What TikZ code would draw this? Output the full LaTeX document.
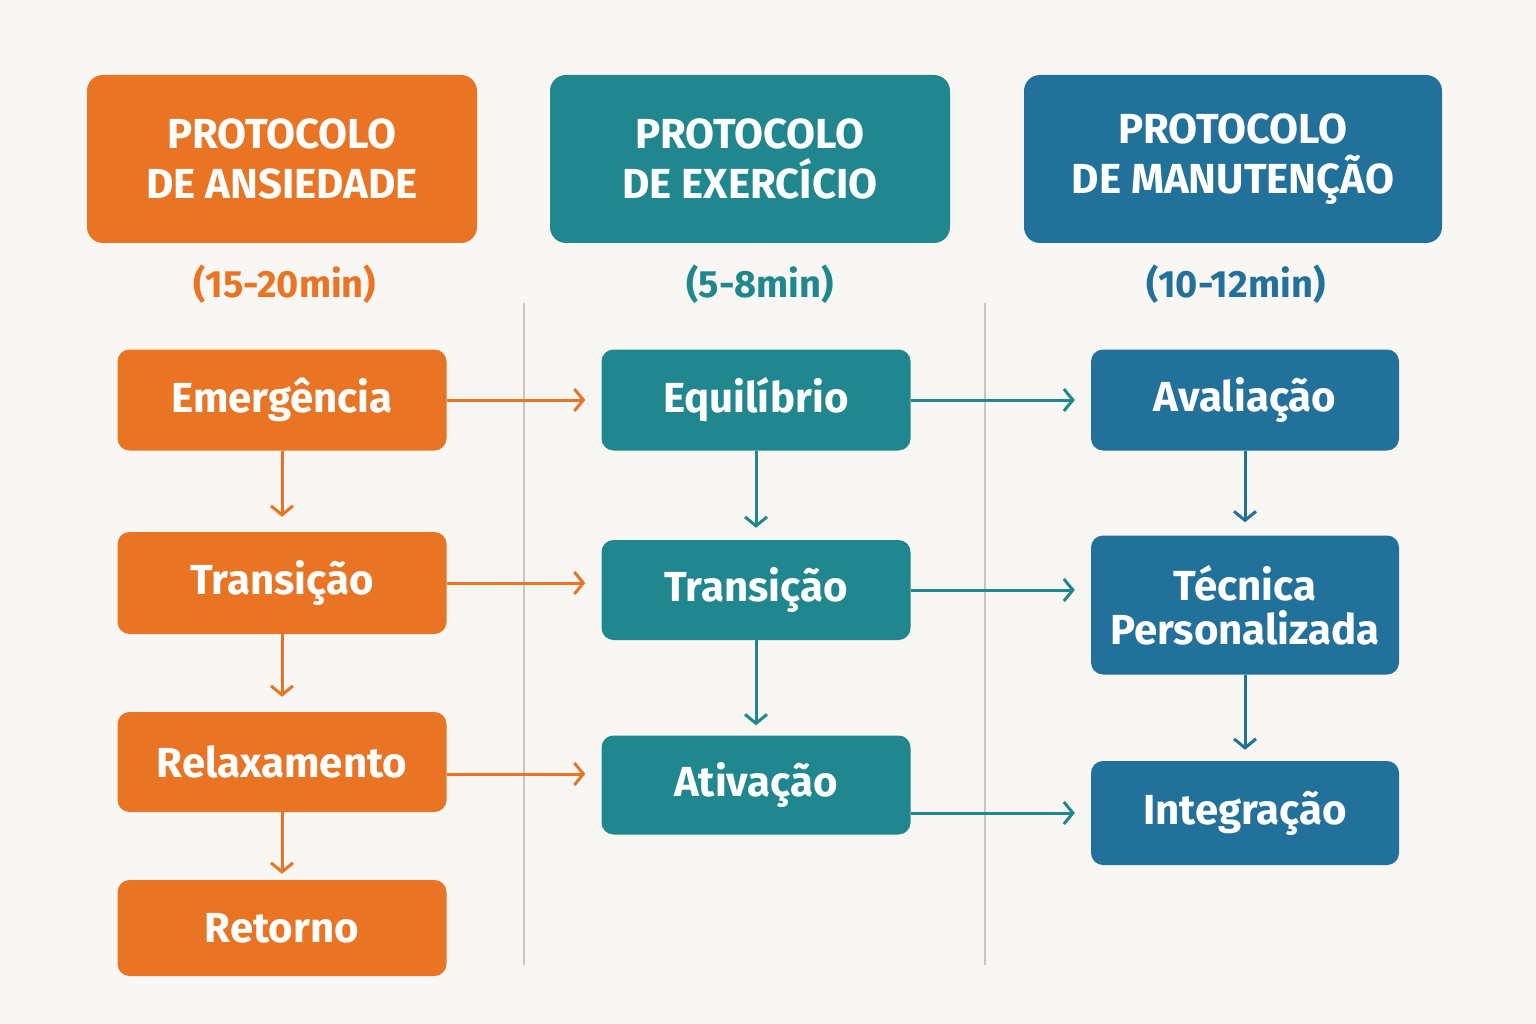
\documentclass[tikz,border=0pt]{standalone}
\usepackage{fontspec}
\setmainfont{Fira Sans}
\usetikzlibrary{arrows.meta}
\definecolor{bg}{HTML}{F9F7F3}
\definecolor{cor}{HTML}{E87424}
\definecolor{cte}{HTML}{20878F}
\definecolor{cbl}{HTML}{21719A}
\definecolor{cdv}{HTML}{C8C6C2}
\begin{document}
\begin{tikzpicture}[x=1pt,y=-1pt,
  hdr/.style={rounded corners=16pt,text=white,font=\fontsize{42}{50}\selectfont\bfseries,align=center,inner sep=0pt},
  box/.style={rounded corners=12pt,text=white,font=\fontsize{42}{44}\selectfont\bfseries,align=center,inner sep=0pt},
  dur/.style={font=\fontsize{38}{40}\selectfont\bfseries},
  arr/.style={line width=3pt,-{Straight Barb[length=9pt,width=22pt,line width=3pt]}}]
\useasboundingbox[fill=bg] (0,0) rectangle (1536,1024);
\draw[cdv,line width=2.5pt] (524,303) -- (524,965) (985,303) -- (985,965);
% headers
\node[hdr,fill=cor,minimum width=390pt,minimum height=168pt] (h1) at (282,159) {PROTOCOLO\\DE ANSIEDADE};
\node[hdr,fill=cte,minimum width=400pt,minimum height=168pt] (h2) at (750,159) {PROTOCOLO\\DE EXERCÍCIO};
\node[hdr,fill=cbl,minimum width=418pt,minimum height=168pt] (h3) at (1233,159) {PROTOCOLO\\DE MANUTENÇÃO};
\node[dur,text=cor] (d1) at (285,284) {(15-20min)};
\node[dur,text=cte] (d2) at (760,284) {(5-8min)};
\node[dur,text=cbl] (d3) at (1236,284) {(10-12min)};
% orange
\tikzset{ob/.style={box,fill=cor,minimum width=329pt}}
\node[ob,minimum height=101pt] (o1) at (282,400) {Emergência};
\node[ob,minimum height=102pt] (o2) at (282,583) {Transição};
\node[ob,minimum height=100pt] (o3) at (282,762) {Relaxamento};
\node[ob,minimum height=96pt] (o4) at (282,928) {Retorno};
% teal
\tikzset{tb/.style={box,fill=cte,minimum width=309pt}}
\node[tb,minimum height=101pt] (t1) at (756,400) {Equilíbrio};
\node[tb,minimum height=100pt] (t2) at (756,590) {Transição};
\node[tb,minimum height=99pt] (t3) at (756,785) {Ativação};
% blue
\tikzset{bb/.style={box,fill=cbl,minimum width=308pt}}
\node[bb,minimum height=101pt] (b1) at (1245,400) {Avaliação};
\node[bb,minimum height=139pt] (b2) at (1245,605) {Técnica\\Personalizada};
\node[bb,minimum height=104pt] (b3) at (1245,813) {Integração};
% arrows
\begin{scope}[cor]
\draw[arr,cor,shorten >=16pt] (o1.east) -- (o1.east -| t1.west);
\draw[arr,cor,shorten >=16pt] (o2.east) -- (o2.east -| t2.west);
\draw[arr,cor,shorten >=16pt] (o3.east |- 0,774) -- (t3.west |- 0,774);
\draw[arr,cor,shorten >=15pt] (o1) -- (o2);
\draw[arr,cor,shorten >=15pt] (o2) -- (o3);
\draw[arr,cor,shorten >=6pt] (o3) -- (o4);
\end{scope}
\draw[arr,cte,shorten >=16pt] (t1.east) -- (t1.east -| b1.west);
\draw[arr,cte,shorten >=16pt] (t2.east) -- (t2.east -| b2.west);
\draw[arr,cte,shorten >=16pt] (b3.west -| t3.east) -- (b3.west);
\draw[arr,cte,shorten >=12pt] (t1) -- (t2);
\draw[arr,cte,shorten >=10pt] (t2) -- (t3);
\draw[arr,cbl,shorten >=13pt] (b1) -- (b2);
\draw[arr,cbl,shorten >=11pt] (b2) -- (b3);
\end{tikzpicture}
\end{document}
